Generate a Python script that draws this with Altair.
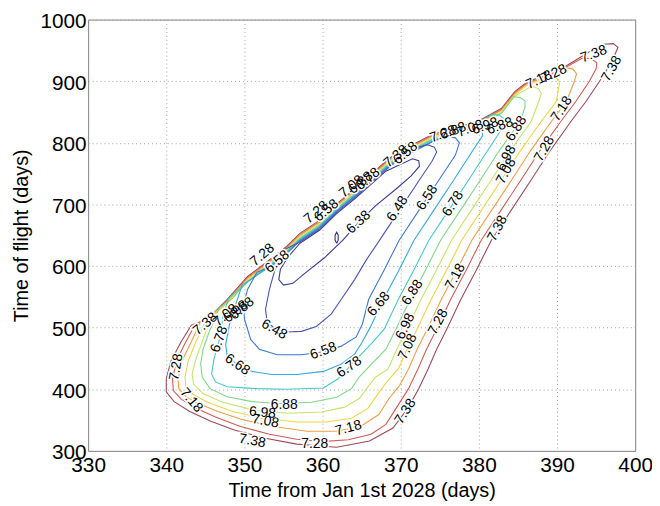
import altair as alt
import pandas as pd

# ---------------- data ----------------
x_ticks = [330, 340, 350, 360, 370, 380, 390, 400]
y_ticks = [300, 400, 500, 600, 700, 800, 900, 1000]

levels = ["6.28", "6.38", "6.48", "6.58", "6.68", "6.78", "6.88", "6.98", "7.08", "7.18", "7.28", "7.38"]
level_colors = ["#2b2b85", "#3a3a9a", "#4b55b0", "#3f78cc", "#35a8dc", "#45c8c8",
                "#7fd68a", "#c5e46a", "#ecd545", "#ee9e48", "#cf5c55", "#9a4a5c"]

c738 = [(343.2,504),(341.9,477),(340.6,446),(340.0,417),(340.0,396),(341.0,380),(343.0,364),(345.7,348),(348.7,334),(352.5,321),(356.7,311),(361.8,306),(366.0,316),(369.0,337),(370.9,369),(372.3,401),(373.5,433),(374.6,465),(375.9,498),(377.7,546),(379.7,594),(381.6,642),(384.1,690),(386.6,738),(389.1,787),(391.8,835),(393.7,867),(395.4,899),(397.0,931),(397.8,955),(397.2,961),(396.0,960),(394.7,952),(393.0,939),(391.3,926),(389.6,915),(386.2,899),(384.6,883),(382.9,856),(379.9,835),(374.1,814),(369.4,783),(368.1,770),(364.3,727),(361.8,701),(359.6,674),(357.1,653),(355.4,632),(352.9,607),(350.4,583),(347.8,546),(345.3,514),(343.2,504)]
c728 = [(343.8,507),(342.5,477),(341.3,446),(340.8,417),(340.9,398),(341.9,384),(343.8,369),(346.3,355),(349.4,340),(353.2,327),(356.7,319),(359.9,315),(363.3,318),(366.2,327),(368.1,343),(369.4,369),(371.0,401),(372.2,433),(373.3,465),(374.6,498),(376.4,546),(378.4,594),(380.3,642),(382.8,690),(385.3,738),(387.8,787),(390.5,835),(392.4,867),(394.1,899),(395.0,920),(395.1,930),(394.3,937),(393.2,937),(391.3,924),(389.6,913),(386.2,897),(384.6,881),(382.9,854),(379.9,833),(374.1,812),(369.4,781),(368.1,768),(364.3,725),(361.8,699),(359.6,672),(357.1,651),(355.4,630),(352.9,605),(350.4,581),(347.8,544),(345.3,512),(343.8,507)]
c718 = [(344.4,510),(343.2,477),(342.0,446),(341.5,417),(341.6,401),(342.5,388),(344.1,377),(346.6,364),(349.7,351),(353.5,340),(358.0,332),(361.8,332),(364.9,340),(367.2,359),(368.5,385),(369.8,405),(371.0,433),(372.1,465),(373.4,498),(375.2,546),(377.2,594),(379.1,642),(381.6,690),(384.1,738),(386.6,787),(389.3,835),(391.2,867),(392.2,899),(392.5,912),(392.0,920),(391.0,922),(389.6,912),(386.2,896),(384.6,880),(382.9,853),(379.9,832),(374.1,811),(369.4,780),(368.1,767),(364.3,724),(361.8,698),(359.6,671),(357.1,650),(355.4,629),(352.9,604),(350.4,580),(347.8,543),(345.3,511),(344.4,510)]
c708 = [(345.1,513),(343.8,477),(342.8,446),(342.4,420),(342.5,404),(343.4,392),(345.3,379),(348.5,364),(352.3,353),(356.7,347),(360.5,347),(363.7,353),(365.8,369),(367.1,393),(368.4,415),(369.7,433),(370.8,465),(372.1,498),(373.9,546),(375.9,594),(377.8,642),(380.3,690),(382.8,738),(385.3,787),(388.0,835),(389.9,867),(390.3,895),(390.2,903),(389.3,908),(386.2,894),(384.6,878),(382.9,851),(379.9,830),(374.1,809),(369.4,778),(368.1,765),(364.3,722),(361.8,696),(359.6,669),(357.1,648),(355.4,627),(352.9,602),(350.4,578),(347.8,541),(345.1,513)]
c698 = [(345.8,519),(344.7,481),(343.8,449),(343.3,425),(343.5,408),(344.7,393),(347.2,379),(351.0,367),(355.4,361),(359.9,363),(362.8,371),(364.7,385),(365.8,404),(366.8,420),(368.4,433),(369.5,465),(370.8,498),(372.6,546),(374.6,594),(376.5,642),(379.0,690),(381.5,738),(384.0,787),(386.7,835),(387.6,865),(388.0,880),(387.6,888),(386.8,892),(384.6,876),(382.9,849),(379.9,828),(374.1,807),(369.4,776),(368.1,763),(364.3,720),(361.8,694),(359.6,667),(357.1,646),(355.4,625),(352.9,600),(350.4,576),(347.8,539),(345.8,519)]
c688 = [(346.8,532),(345.6,497),(344.7,465),(344.4,441),(344.6,420),(345.6,401),(347.8,388),(351.0,380),(354.2,377),(358.6,379),(361.8,387),(363.7,401),(364.7,420),(366.2,440),(368.1,465),(369.4,498),(371.2,546),(373.2,594),(375.1,642),(377.6,690),(380.1,738),(382.6,787),(385.3,835),(385.9,858),(385.9,868),(385.3,873),(384.5,875),(382.9,848),(379.9,827),(374.1,806),(369.4,775),(368.1,762),(364.3,719),(361.8,693),(359.6,666),(357.1,645),(355.4,624),(352.9,599),(350.4,575),(348.5,548),(346.8,532)]
c678 = [(348.0,548),(347.3,522),(346.8,481),(346.1,449),(345.8,425),(346.3,412),(347.8,404),(351.6,401),(355.4,400),(360.1,402),(362.0,417),(363.4,436),(364.8,455),(366.3,475),(367.9,498),(369.7,546),(371.7,594),(373.6,642),(376.1,690),(378.6,738),(381.1,787),(382.8,820),(383.3,838),(382.6,845),(381.6,846),(379.9,826),(374.1,805),(369.4,774),(368.1,761),(364.3,718),(361.8,692),(359.6,665),(357.1,644),(355.4,623),(352.9,598),(350.4,574),(348.0,548)]
c668 = [(349.7,569),(348.9,538),(348.1,506),(347.6,473),(347.8,453),(349.1,440),(351.0,429),(353.5,424),(356.7,424),(360.1,429),(362.4,441),(364.1,457),(365.0,475),(366.0,498),(367.8,546),(369.8,594),(371.7,642),(374.2,690),(376.7,738),(379.2,787),(380.5,812),(380.3,821),(379.3,825),(374.1,803),(369.4,772),(368.1,759),(364.3,716),(361.8,690),(359.6,663),(357.1,642),(355.4,621),(352.9,596),(351.0,580),(349.7,569)]
c658 = [(351.6,590),(350.4,562),(349.9,538),(350.0,514),(350.8,481),(351.9,465),(354.2,456),(357.3,456),(360.1,461),(362.4,470),(364.3,485),(365.1,506),(365.9,546),(367.9,594),(369.8,642),(372.3,690),(374.8,738),(377.0,780),(377.5,800),(377.0,808),(376.0,810),(374.1,802),(369.4,771),(368.1,758),(364.3,715),(361.8,689),(359.6,662),(357.1,641),(355.4,620),(353.5,600),(351.6,590)]
c648 = [(354.8,625),(353.9,594),(353.2,562),(352.7,530),(352.9,510),(353.9,498),(355.4,493),(357.3,494),(359.2,502),(361.1,522),(362.4,546),(364.1,578),(365.6,610),(367.3,642),(369.8,690),(372.3,738),(374.0,770),(374.6,785),(374.3,793),(373.4,797),(371.5,790),(369.4,769),(368.1,756),(364.3,713),(361.8,687),(359.6,660),(357.1,639),(354.8,625)]
c638 = [(357.1,637),(355.6,615),(354.6,595),(354.4,578),(355.0,569),(356.2,572),(357.6,587),(360.2,613),(362.6,642),(364.6,671),(366.8,698),(369.4,725),(371.3,746),(372.4,762),(372.3,771),(371.5,774),(368.1,754),(364.3,711),(361.8,685),(359.6,658),(357.1,637)]
c628 = [(361.8,637),(362.0,642),(362.0,650),(361.8,655),(361.6,650),(361.6,642),(361.8,637)]

contours = [("7.38", c738), ("7.28", c728), ("7.18", c718), ("7.08", c708), ("6.98", c698),
            ("6.88", c688), ("6.78", c678), ("6.68", c668), ("6.58", c658), ("6.48", c648),
            ("6.38", c638), ("6.28", c628)]

# contour labels: text, x, y, rotation (deg, clockwise)
label_text = ["7.38","7.38","7.18","7.28","7.18","7.28","6.88","6.98","7.08","7.38","6.78","6.58","6.48","6.38",
              "7.18","7.28","6.88","6.98","7.08","6.68","7.38","6.78","6.58","7.18","7.28","7.38","6.88","6.98","7.08",
              "6.48","6.68","6.78","7.28","7.18",
              "7.38","7.08","6.98","6.88","7.28","6.58","7.28","6.58","7.08","6.88","6.78","7.38","6.58",
              "7.28","6.88","7.08","6.98","6.88"]
label_x = [394.7,397.0,387.7,389.6,390.6,388.4,384.8,383.5,383.5,382.4,376.7,373.4,369.6,364.6,
           377.0,374.8,371.5,370.6,370.9,367.2,370.6,363.4,360.1,363.3,359.0,351.0,355.1,352.3,352.7,
           353.8,349.1,346.8,341.3,343.2,
           345.0,347.6,348.9,349.7,352.3,354.2,359.2,360.5,363.7,364.9,365.8,369.4,370.6,
           375.4,376.7,378.9,380.8,382.7]
label_y = [944,920,902,912,855,790,823,775,754,661,701,711,693,671,
           583,509,557,502,469,538,364,436,462,337,311,316,374,362,348,
           497,440,481,436,382,
           506,520,526,531,618,607,687,690,729,735,741,778,783,
           814,819,823,827,827]
label_angle = [340,300,335,335,303,300,303,298,298,298,303,303,303,318,
               298,298,303,295,295,310,303,325,340,345,0,10,0,5,10,
               30,35,290,280,50,
               320,320,320,320,320,320,320,320,320,320,320,320,320,
               340,340,340,340,340]

# ---------------- tables ----------------
rows = []
for lev, pts in contours:
    for i, (px, py) in enumerate(pts):
        rows.append({"x": px, "y": py, "level": lev, "i": i})
lines_df = pd.DataFrame(rows)

labels_df = pd.DataFrame({"text": label_text, "x": label_x, "y": label_y, "angle": label_angle})

FONT = "Liberation Sans"
xscale = alt.Scale(domain=[330, 400], nice=False, zero=False)
yscale = alt.Scale(domain=[300, 1000], nice=False, zero=False)

x_axis = alt.Axis(values=x_ticks, title="Time from Jan 1st 2028 (days)", labelFlush=False, format="d",
                  labelOverlap=False, labelPadding=4, titlePadding=5)
y_axis = alt.Axis(values=y_ticks, title="Time of flight (days)", labelFlush=False, format="d",
                  labelOverlap=False, labelPadding=2, labelOffset=2, titlePadding=9)

lines = alt.Chart(lines_df).mark_line(strokeWidth=1.1, clip=True).encode(
    x=alt.X("x:Q", scale=xscale, axis=x_axis),
    y=alt.Y("y:Q", scale=yscale, axis=y_axis),
    color=alt.Color("level:N", scale=alt.Scale(domain=levels, range=level_colors), legend=None),
    detail="level:N",
    order="i:Q",
)

halo = alt.Chart(labels_df).mark_text(font=FONT, fontSize=14, color="white", stroke="white",
                                      strokeWidth=3).encode(
    x=alt.X("x:Q", scale=xscale),
    y=alt.Y("y:Q", scale=yscale),
    text="text:N",
    angle=alt.Angle("angle:Q", scale=None),
)
texts = alt.Chart(labels_df).mark_text(font=FONT, fontSize=14, color="black").encode(
    x=alt.X("x:Q", scale=xscale),
    y=alt.Y("y:Q", scale=yscale),
    text="text:N",
    angle=alt.Angle("angle:Q", scale=None),
)

chart = alt.layer(lines, halo, texts).properties(
    width=553, height=436,
    padding={"left": 81, "top": 9, "right": 17, "bottom": 52},
    autosize=alt.AutoSizeParams(type="none"),
    background="white",
).configure_axis(
    labelFont=FONT, labelFontSize=21, labelColor="black",
    titleFont=FONT, titleFontSize=20, titleColor="black", titleFontWeight="normal",
    grid=True, gridColor="#a0a0a0", gridDash=[1, 3], gridWidth=1,
    ticks=False, domain=False,
).configure_view(stroke="#808080", strokeWidth=1)

chart.save("out.html", embed_options={"renderer": "svg", "actions": False})
